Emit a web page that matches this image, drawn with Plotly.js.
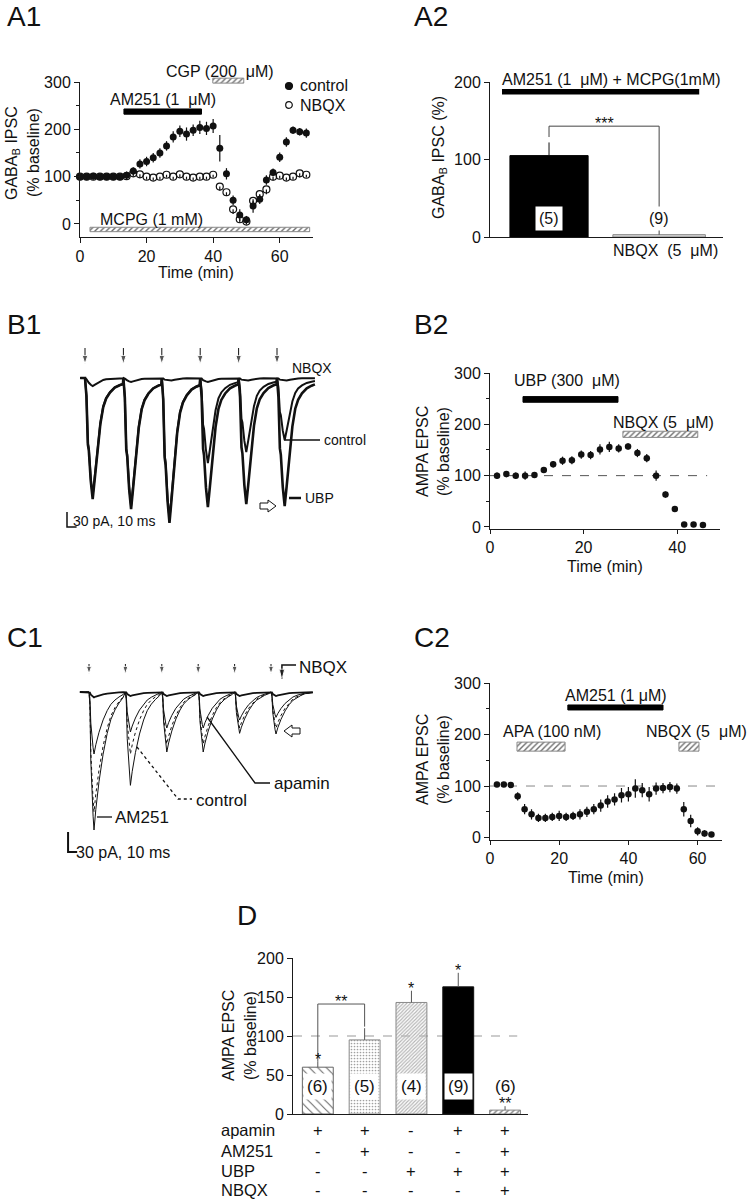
<!DOCTYPE html>
<html>
<head>
<meta charset="utf-8">
<script src="https://cdn.plot.ly/plotly-3.0.1.min.js"></script>
<style>
html,body{margin:0;padding:0;background:#fff;}
#chart{width:750px;height:1200px;}
</style>
</head>
<body>
<div id="chart"></div>
<script>
// ================= DATA =================
// A1 — GABA-B IPSC time course (% baseline)
const a1Time = [0,2,4,6,8,10,12,14,16,18,20,22,24,26,28,30,32,34,36,38,40,42,44,46,48,50,52,54,56,58,60,62,64,66,68];
const a1Control = [100,100,101,100,100,100,100,103,112,127,132,140,150,165,184,196,190,198,204,202,207,160,106,50,19,9,38,52,93,109,141,173,198,195,192];
const a1ControlErr = [6,6,6,6,6,6,6,8,8,10,10,10,10,10,12,12,14,12,14,14,15,28,12,10,12,8,14,10,10,8,10,10,8,8,10];
const a1Nbqx = [100,100,100,100,100,100,100,101,107,105,100,98,100,104,100,105,100,98,100,100,104,79,67,31,10,5,49,63,73,100,102,98,100,107,104];
const a1NbqxErr = [6,6,6,6,6,6,6,6,7,8,6,6,6,6,6,6,6,6,6,6,6,8,8,10,8,6,8,8,10,8,6,6,6,8,6];
const a1Drugs = ['MCPG (1 mM)', 'AM251 (1\u00a0 μM)', 'CGP (200\u00a0 μM)'];
const a1DrugStart = [3, 13.2, 39.9];
const a1DrugEnd = [69, 36.5, 49.2];

// A2 — GABA-B IPSC (%) bars
const a2Groups = ['AM251 + MCPG', 'NBQX (5 μM)'];
const a2Values = [105, 3];
const a2Err = [17, 0];
const a2N = ['(5)', '(9)'];

// B1 — EPSC trains: stimulus times (ms), peak amplitudes (pA), sweep shape
const b1StimMs = [0, 40, 80, 120, 160, 200];
const b1UbpPeak = [-242, -262, -290, -258, -252, -256];
const b1ControlPeak = [-236, -256, -282, -170, -148, -124];
const b1NbqxPeak = [-16, -8, -6, -8, -6, -6];
const b1ShapeMs = [0, 1.5, 3, 4, 6, 8, 10, 13.5, 16, 19, 22, 26, 31, 36, 39.5];
const b1ShapeFrac = [0, 0.15, 0.55, 0.6, 0.85, 1, 0.85, 0.57, 0.38, 0.24, 0.17, 0.12, 0.08, 0.06, 0.05];

// B2 — AMPA EPSC time course
const b2Time = [1.5,3.5,5.5,7.5,9.5,11.5,13.5,15.5,17.5,19.5,21.5,23.5,25.5,27.5,29.5,31.5,33.5,35.5,37.5,39.5,41.5,43.5,45.5];
const b2Epsc = [100,103,100,100,101,111,122,129,130,141,140,151,156,153,157,144,134,100,63,35,5,5,4];
const b2Err = [6,6,6,8,4,4,6,8,8,8,8,10,10,8,6,8,8,10,6,6,4,4,4];
const b2Drugs = ['UBP (300\u00a0 μM)', 'NBQX (5\u00a0 μM)'];
const b2DrugStart = [7.05, 28.4];
const b2DrugEnd = [27.35, 44.4];

// C1 — EPSC trains
const c1StimMs = [0, 40, 80, 120, 160, 200];
const c1Am251Peak = [-207, -140, -90, -90, -62, -63];
const c1ControlPeak = [-180, -93, -78, -78, -54, -54];
const c1ApaminPeak = [-93, -60, -54, -54, -42, -38];
const c1NbqxPeak = [-8, -6, -6, -6, -6, -6];
const c1ShapeMs = [0, 1, 2, 4.5, 5.5, 7.5, 11, 15.5, 20, 24, 28.5, 33, 37.5, 46];
const c1ShapeFrac = [0, 0.1, 0.5, 0.9, 1, 0.85, 0.65, 0.45, 0.3, 0.2, 0.13, 0.08, 0.04, 0.02];

// C2 — AMPA EPSC time course
const c2Time = [2,4,6,8,10,12,14,16,18,20,22,24,26,28,30,32,34,36,38,40,42,44,46,48,50,52,54,56,58,60,62,64];
const c2Epsc = [103,103,102,80,55,45,38,38,40,42,40,42,45,50,55,62,70,74,82,84,95,92,84,95,96,98,95,55,32,12,8,6];
const c2Err = [5,5,5,8,10,10,8,8,8,10,8,8,10,10,10,12,12,12,14,14,18,14,14,12,10,10,10,14,12,8,6,4];
const c2Drugs = ['AM251 (1 μM)', 'APA (100 nM)', 'NBQX (5\u00a0 μM)'];
const c2DrugStart = [22.5, 7.8, 54.6];
const c2DrugEnd = [50, 21.7, 60.4];

// D — summary bars
const dGroups = ['apamin', 'apamin+AM251', 'UBP', 'apamin+UBP', 'apamin+AM251+UBP+NBQX'];
const dValues = [60, 95, 143, 163, 5];
const dErr = [7, 15, 15, 18, 5];
const dN = ['(6)', '(5)', '(4)', '(9)', '(6)'];
const dSig = ['*', '', '*', '*', '**'];
const dRowNames = ['apamin', 'AM251', 'UBP', 'NBQX'];
const dApamin = ['+', '+', '-', '+', '+'];
const dAm251 = ['-', '+', '-', '-', '+'];
const dUbp = ['-', '-', '+', '+', '+'];
const dNbqx = ['-', '-', '-', '-', '+'];

// ================= HELPERS =================
const W = 750, H = 1200;
const PX = p => p / W;
const PY = p => 1 - p / H;
const domX = (a, b) => [a / W, b / W];
const domY = (top, bottom) => [1 - bottom / H, 1 - top / H];
const FONT = 'Liberation Sans, Arial, Helvetica, sans-serif';
const INK = '#111';

function sweep(stims, peaks, shapeMs, shapeFrac, preMs) {
  const x = [stims[0] - preMs], y = [0];
  stims.forEach((s, i) => {
    const next = i < stims.length - 1 ? stims[i + 1] : Infinity;
    shapeMs.forEach((o, j) => {
      if (s + o < next) { x.push(s + o); y.push(peaks[i] * shapeFrac[j]); }
    });
  });
  return {x, y};
}
// stimulus arrows (one trace, arrowhead marker at the lower end)
function stimArrows(stims, top, head, xa, ya, headSize) {
  const x = [], y = [], size = [];
  stims.forEach(s => { x.push(s, s, null); y.push(top, head, null); size.push(0, headSize, 0); });
  return {type:'scatter', mode:'lines+markers', x, y, xaxis:xa, yaxis:ya, connectgaps:false,
    line:{color:INK, width:1}, marker:{symbol:'arrow', angleref:'previous', size, color:INK},
    hoverinfo:'skip', cliponaxis:false};
}

const traces = [];
const annotations = [];
const shapes = [];
function T(text, x, y, opts) {
  annotations.push(Object.assign({text, xref:'paper', yref:'paper', x:PX(x), y:PY(y), showarrow:false,
    xanchor:'center', yanchor:'middle', font:{size:16, color:INK, family:FONT}}, opts || {}));
}
function L(x0, y0, x1, y1, opts) {
  shapes.push(Object.assign({type:'line', xref:'paper', yref:'paper', x0:PX(x0), y0:PY(y0), x1:PX(x1), y1:PY(y1),
    line:{color:INK, width:1}}, opts || {}));
}
// paper-pixel polygon (open block arrows)
function poly(pts, opts) {
  const d = pts.map((p, i) => (i ? 'L ' : 'M ') + PX(p[0]) + ' ' + PY(p[1])).join(' ') + ' Z';
  shapes.push(Object.assign({type:'path', xref:'paper', yref:'paper', path:d, fillcolor:'#fff', line:{color:INK, width:1}}, opts || {}));
}
function dot(cx, cy, r, filled) {
  shapes.push({type:'circle', xref:'paper', yref:'paper', x0:PX(cx - r), x1:PX(cx + r), y0:PY(cy + r), y1:PY(cy - r),
    fillcolor: filled ? INK : '#fff', line:{color:INK, width:1.2}});
}
// drug-application bars: solid black, or grey hatch on white
function drugBars(xa, ya, starts, ends, levels, thick, isSolid) {
  traces.push({type:'bar', orientation:'h', xaxis:xa, yaxis:ya,
    base: starts, x: ends.map((e, i) => e - starts[i]), y: levels, width: thick,
    marker:{color: isSolid.map(s => s ? '#000' : '#6e6e6e'),
      line:{color: isSolid.map(s => s ? '#000' : '#8a8a8a'), width:1},
      pattern:{shape: isSolid.map(s => s ? '' : '/'), size:4, solidity:0.35}},
    hoverinfo:'skip', showlegend:false, cliponaxis:false});
}
const errStyle = {type:'data', visible:true, color:INK, thickness:1.2, width:0};

// ================= A1 =================
traces.push({type:'scatter', mode:'markers', x:a1Time, y:a1Nbqx, xaxis:'x', yaxis:'y', cliponaxis:false,
  marker:{symbol:'circle-open', size:7, color:INK, line:{width:1.2, color:INK}},
  error_y:Object.assign({}, errStyle, {symmetric:false, array:a1NbqxErr.map(() => 0), arrayminus:a1NbqxErr})});
traces.push({type:'scatter', mode:'markers', x:a1Time, y:a1Control, xaxis:'x', yaxis:'y', cliponaxis:false,
  marker:{symbol:'circle', size:7, color:INK},
  error_y:Object.assign({}, errStyle, {array:a1ControlErr})});
// MCPG and AM251 inside the A1 plot area; CGP sits above 300 %, on a twin (hidden) axis with the same scale
drugBars('x', 'y', a1DrugStart.slice(0, 2), a1DrugEnd.slice(0, 2), [-11.6, 237.5], [9.3, 11], [false, true]);
drugBars('x8', 'y8', a1DrugStart.slice(2), a1DrugEnd.slice(2), [303], [10.5], [false]);

T('A1', 5, 17, {xanchor:'left', font:{size:28, color:INK, family:FONT}});
T('GABA<sub>B</sub> IPSC', 13, 153, {textangle:-90});
T('(% baseline)', 34, 153, {textangle:-90});
T('Time (min)', 196, 272);
T(a1Drugs[1], 163, 99);
T(a1Drugs[2], 220, 71);
T(a1Drugs[0], 151, 219);
// legend keys
dot(289, 86, 3.5, true);
T('control', 298, 86, {xanchor:'left'});
dot(289, 105, 3.3, false);
T('NBQX', 298, 105, {xanchor:'left'});

// ================= A2 =================
traces.push({type:'bar', x:a2Groups, y:a2Values, xaxis:'x2', yaxis:'y2', width:[0.71, 0.84], cliponaxis:false,
  marker:{color:['#000', '#d4d4d4'], line:{color:['#000', '#888'], width:1}},
  error_y:Object.assign({}, errStyle, {symmetric:false, array:a2Err, arrayminus:a2Err.map(() => 0), thickness:1})});
shapes.push({type:'rect', xref:'x2', yref:'y2', x0:-0.427, x1:1.364, y0:184, y1:191, fillcolor:'#000', line:{width:0}});
[[0,129,0,143],[0,143,1,143],[1,143,1,3]].forEach(s => shapes.push({type:'line', xref:'x2', yref:'y2',
  x0:s[0], y0:s[1], x1:s[2], y1:s[3], line:{color:'#444', width:1}}));
a2N.forEach((n, i) => annotations.push({text:n, xref:'x2', yref:'y2', x:i, y:24, showarrow:false,
  xanchor:'center', yanchor:'middle', bgcolor:'#fff', borderpad:3, font:{size:16, color:INK, family:FONT}}));
annotations.push({text:'***', xref:'x2', yref:'y2', x:0.5, y:143, yanchor:'bottom', yshift:-8, showarrow:false,
  font:{size:16, color:INK, family:FONT}});
T('A2', 412, 17, {xanchor:'left', font:{size:28, color:INK, family:FONT}});
T('GABA<sub>B</sub> IPSC (%)', 440, 158, {textangle:-90});
T('AM251 (1\u00a0 μM) + MCPG(1mM)', 500, 80, {xanchor:'left'});
T('NBQX\u00a0 (5\u00a0 μM)', 665, 250);

// ================= B1 =================
const b1N = sweep(b1StimMs, b1NbqxPeak, b1ShapeMs, b1ShapeFrac, 5);
const b1C = sweep(b1StimMs, b1ControlPeak, b1ShapeMs, b1ShapeFrac, 5);
const b1U = sweep(b1StimMs, b1UbpPeak, b1ShapeMs, b1ShapeFrac, 5);
traces.push({type:'scatter', mode:'lines', x:b1N.x, y:b1N.y, xaxis:'x3', yaxis:'y3', line:{color:INK, width:2}, hoverinfo:'skip'});
traces.push({type:'scatter', mode:'lines', x:b1C.x, y:b1C.y, xaxis:'x3', yaxis:'y3', line:{color:INK, width:2}, hoverinfo:'skip'});
traces.push({type:'scatter', mode:'lines', x:b1U.x, y:b1U.y, xaxis:'x3', yaxis:'y3', line:{color:INK, width:2.6}, hoverinfo:'skip'});
traces.push(stimArrows(b1StimMs, 60, 28, 'x3', 'y3', 9));
// scale bar: 30 pA, 10 ms
shapes.push({type:'path', xref:'x3', yref:'y3', path:'M -18.75 -268 L -18.75 -298 L -8.75 -298', line:{color:INK, width:1.5}});
T('B1', 5, 324, {xanchor:'left', font:{size:28, color:INK, family:FONT}});
T('NBQX', 290, 368, {xanchor:'left', font:{size:14, color:INK, family:FONT}});
L(284, 440, 320, 440, {line:{color:INK, width:1.5}});
T('control', 322, 440, {xanchor:'left', font:{size:14, color:INK, family:FONT}});
L(289, 498, 301, 498, {line:{color:INK, width:2.5}});
T('UBP', 303, 498, {xanchor:'left', font:{size:14, color:INK, family:FONT}});
poly([[260,503],[268,503],[268,500],[276,506],[268,512],[268,509],[260,509]]);
T('30 pA, 10 ms', 71, 521, {xanchor:'left', font:{size:14, color:INK, family:FONT}});

// ================= B2 =================
traces.push({type:'scatter', mode:'markers', x:b2Time, y:b2Epsc, xaxis:'x4', yaxis:'y4', cliponaxis:false,
  marker:{symbol:'circle', size:6.5, color:INK}, error_y:Object.assign({}, errStyle, {array:b2Err})});
drugBars('x4', 'y4', b2DrugStart, b2DrugEnd, [248.5, 180.5], [11, 12], [true, false]);
shapes.push({type:'line', xref:'x4', yref:'y4', x0:0, x1:46.4, y0:100, y1:100, layer:'below', line:{color:'#555', width:1, dash:'dash'}});
T('B2', 412, 324, {xanchor:'left', font:{size:28, color:INK, family:FONT}});
T('AMPA EPSC', 422, 452, {textangle:-90});
T('(% baseline)', 443, 452, {textangle:-90});
T(b2Drugs[0], 567, 380);
T(b2Drugs[1], 663, 422);
T('Time (min)', 605, 567);

// ================= C1 =================
const c1N = sweep(c1StimMs, c1NbqxPeak, c1ShapeMs, c1ShapeFrac, 10);
const c1Ap = sweep(c1StimMs, c1ApaminPeak, c1ShapeMs, c1ShapeFrac, 10);
const c1Ct = sweep(c1StimMs, c1ControlPeak, c1ShapeMs, c1ShapeFrac, 10);
const c1Am = sweep(c1StimMs, c1Am251Peak, c1ShapeMs, c1ShapeFrac, 10);
traces.push({type:'scatter', mode:'lines', x:c1N.x, y:c1N.y, xaxis:'x5', yaxis:'y5', line:{color:INK, width:1.8}, hoverinfo:'skip'});
traces.push({type:'scatter', mode:'lines', x:c1Ap.x, y:c1Ap.y, xaxis:'x5', yaxis:'y5', line:{color:INK, width:1}, hoverinfo:'skip'});
traces.push({type:'scatter', mode:'lines', x:c1Ct.x, y:c1Ct.y, xaxis:'x5', yaxis:'y5', line:{color:INK, width:1, dash:'dot'}, hoverinfo:'skip'});
traces.push({type:'scatter', mode:'lines', x:c1Am.x, y:c1Am.y, xaxis:'x5', yaxis:'y5', line:{color:INK, width:1}, hoverinfo:'skip'});
traces.push(stimArrows(c1StimMs, 42, 27, 'x5', 'y5', 8));
// NBQX pointer (label leader with arrowhead), in C1 trace coordinates
traces.push({type:'scatter', mode:'lines+markers', x:[227.5, 212, 212], y:[40.5, 40.5, 20], xaxis:'x5', yaxis:'y5',
  line:{color:INK, width:1.5}, marker:{symbol:'arrow', angleref:'previous', size:[0, 0, 10], color:INK},
  hoverinfo:'skip', cliponaxis:false});
shapes.push({type:'path', xref:'x5', yref:'y5', path:'M -23 -210 L -23 -240 L -13 -240', line:{color:INK, width:2}});
T('C1', 5, 637, {xanchor:'left', font:{size:28, color:INK, family:FONT}});
T('NBQX', 297, 667, {xanchor:'left', font:{size:17, color:INK, family:FONT}});
shapes.push({type:'path', xref:'paper', yref:'paper', path:`M ${PX(207)} ${PY(717)} L ${PX(255)} ${PY(783)} L ${PX(270)} ${PY(783)}`, line:{color:INK, width:1.3}});
T('apamin', 272, 783, {xanchor:'left', font:{size:17, color:INK, family:FONT}});
shapes.push({type:'path', xref:'paper', yref:'paper', path:`M ${PX(137)} ${PY(747)} L ${PX(178)} ${PY(799)} L ${PX(192)} ${PY(799)}`, line:{color:INK, width:1.3, dash:'dot'}});
T('control', 194, 800, {xanchor:'left', font:{size:17, color:INK, family:FONT}});
L(97, 817, 112, 817, {line:{color:INK, width:1.3}});
T('AM251', 113, 817, {xanchor:'left', font:{size:17, color:INK, family:FONT}});
poly([[300,728],[292,728],[292,725],[284,731],[292,737],[292,734],[300,734]]);
T('30 pA, 10 ms', 74, 852, {xanchor:'left', font:{size:16, color:INK, family:FONT}});

// ================= C2 =================
traces.push({type:'scatter', mode:'markers', x:c2Time, y:c2Epsc, xaxis:'x6', yaxis:'y6', cliponaxis:false,
  marker:{symbol:'circle', size:6.5, color:INK}, error_y:Object.assign({}, errStyle, {array:c2Err})});
drugBars('x6', 'y6', c2DrugStart, c2DrugEnd, [252.5, 176.5, 176.5], [9.7, 17.5, 17.5], [true, false, false]);
shapes.push({type:'line', xref:'x6', yref:'y6', x0:0, x1:66.5, y0:100, y1:100, layer:'below', line:{color:'#888', width:1, dash:'dash'}});
T('C2', 412, 637, {xanchor:'left', font:{size:28, color:INK, family:FONT}});
T('AMPA EPSC', 422, 760, {textangle:-90});
T('(% baseline)', 443, 760, {textangle:-90});
T(c2Drugs[0], 616, 695);
T(c2Drugs[1], 552, 731);
T(c2Drugs[2], 696, 731);
T('Time (min)', 606, 877);

// ================= D =================
// With per-bar colours, Plotly draws the pattern lines in marker.color on a clear (white) ground
traces.push({type:'bar', x:dGroups, y:dValues, xaxis:'x7', yaxis:'y7', width:0.66, cliponaxis:false,
  marker:{color:['#6a6a6a', '#a0a0a0', '#b4b4b4', '#000', '#7a7a7a'],
    line:{color:['#666', '#888', '#888', '#111', '#888'], width:1},
    pattern:{shape:['\\', '.', '/', '', '/'], size:[6, 3, 2.5, 6, 4], solidity:[0.18, 0.25, 0.45, 0.3, 0.35]}},
  error_y:Object.assign({}, errStyle, {symmetric:false, array:dErr, arrayminus:dErr.map(() => 0), color:'#555', thickness:1})});
shapes.push({type:'line', xref:'x7', yref:'y7', x0:-0.53, x1:4.26, y0:100, y1:100, layer:'below', line:{color:'#999', width:1, dash:'dash'}});
[[0,67,0,141],[0,141,1,141],[1,141,1,112]].forEach(s => shapes.push({type:'line', xref:'x7', yref:'y7',
  x0:s[0], y0:s[1], x1:s[2], y1:s[3], line:{color:'#555', width:1}}));
annotations.push({text:'**', xref:'x7', yref:'y7', x:0.5, y:141, yanchor:'bottom', yshift:-8, showarrow:false,
  font:{size:16, color:INK, family:FONT}});
dN.forEach((n, i) => annotations.push({text:n, xref:'x7', yref:'y7', x:dGroups[i], y:35, showarrow:false,
  xanchor:'center', yanchor:'middle', bgcolor: i < 4 ? '#fff' : 'rgba(0,0,0,0)', borderpad:3, font:{size:17, color:INK, family:FONT}}));
dSig.forEach((s, i) => { if (s) annotations.push({text:s, xref:'x7', yref:'y7', x:dGroups[i], y:dValues[i] + dErr[i],
  yanchor:'bottom', yshift:-8, showarrow:false, font:{size:16, color:INK, family:FONT}}); });
const dRows = [dApamin, dAm251, dUbp, dNbqx];
const dRowY = [1130, 1151, 1171, 1190];
dRowNames.forEach((name, r) => {
  T(name, 219, dRowY[r], {xanchor:'left', font:{size:16.5, color:INK, family:FONT}});
  dRows[r].forEach((v, i) => annotations.push({text:v, xref:'x7', yref:'paper', x:dGroups[i], y:PY(dRowY[r]),
    xanchor:'center', yanchor:'middle', showarrow:false, font:{size:16.5, color:INK, family:FONT}}));
});
T('D', 235, 915, {xanchor:'left', font:{size:28, color:INK, family:FONT}});
T('AMPA EPSC', 228, 1036, {textangle:-90});
T('(% baseline)', 250, 1036, {textangle:-90});

// ================= LAYOUT =================
const ax = {showline:true, linecolor:'#1a1a1a', linewidth:1, ticks:'outside', ticklen:5, tickwidth:1,
  tickcolor:'#1a1a1a', showgrid:false, zeroline:false, fixedrange:true,
  tickfont:{size:16, color:INK, family:FONT}};
const minorY = {ticks:'outside', ticklen:3, tickwidth:1, tickcolor:'#1a1a1a', tickvals:[50, 150, 250]};
const hidden = {visible:false, showticklabels:false, ticks:'', showline:false, fixedrange:true, showgrid:false, zeroline:false};

const layout = {
  width:W, height:H, margin:{l:0, r:0, t:0, b:0}, paper_bgcolor:'#fff', plot_bgcolor:'rgba(0,0,0,0)',
  showlegend:false, barmode:'overlay', font:{family:FONT, size:16, color:INK},
  xaxis: Object.assign({}, ax, {domain:domX(80, 313), range:[0, 70], tickvals:[0, 20, 40, 60], anchor:'y'}),
  yaxis: Object.assign({}, ax, {domain:domY(82, 237), range:[-27.5, 300], tickvals:[0, 100, 200, 300], minor:minorY, anchor:'x'}),
  xaxis2: Object.assign({}, ax, {domain:domX(490, 723), type:'category', range:[-0.536, 1.58], ticks:'', showticklabels:false, anchor:'y2'}),
  yaxis2: Object.assign({}, ax, {domain:domY(82, 237), range:[0, 200], tickvals:[0, 100, 200], anchor:'x2'}),
  xaxis3: Object.assign({}, hidden, {domain:domX(60, 330), range:[-26.04, 255.21], anchor:'y3'}),
  yaxis3: Object.assign({}, hidden, {domain:domY(340, 535), range:[-314, 76], anchor:'x3'}),
  xaxis4: Object.assign({}, ax, {domain:domX(490, 720), range:[0, 49.15], tickvals:[0, 20, 40], ticklen:4, anchor:'y4'}),
  yaxis4: Object.assign({}, ax, {domain:domY(373, 529), range:[-4, 300], tickvals:[0, 100, 200, 300], minor:minorY, anchor:'x4'}),
  xaxis5: Object.assign({}, hidden, {domain:domX(60, 330), range:[-31.87, 264.84], anchor:'y5'}),
  yaxis5: Object.assign({}, hidden, {domain:domY(650, 870), range:[-267, 63], anchor:'x5'}),
  xaxis6: Object.assign({}, ax, {domain:domX(490, 722), range:[0, 67.05], tickvals:[0, 20, 40, 60], ticklen:4, anchor:'y6'}),
  yaxis6: Object.assign({}, ax, {domain:domY(683, 839.6), range:[-4, 300], tickvals:[0, 100, 200, 300], minor:minorY, anchor:'x6'}),
  xaxis7: Object.assign({}, ax, {domain:domX(293, 528), type:'category', range:[-0.53, 4.49], ticks:'', showticklabels:false, anchor:'y7'}),
  yaxis7: Object.assign({}, ax, {domain:domY(958, 1114), range:[0, 200], tickvals:[0, 50, 100, 150, 200], anchor:'x7'}),
  // twin of A1 (same time / % scale) extending above 300 % for the CGP application bar
  xaxis8: Object.assign({}, hidden, {domain:domX(80, 313), range:[0, 70], anchor:'y8'}),
  yaxis8: Object.assign({}, hidden, {domain:domY(60, 100), range:[262.1, 346.6], anchor:'x8'}),
  annotations, shapes
};

Plotly.newPlot('chart', traces, layout, {displayModeBar:false, staticPlot:true});
</script>
</body>
</html>
